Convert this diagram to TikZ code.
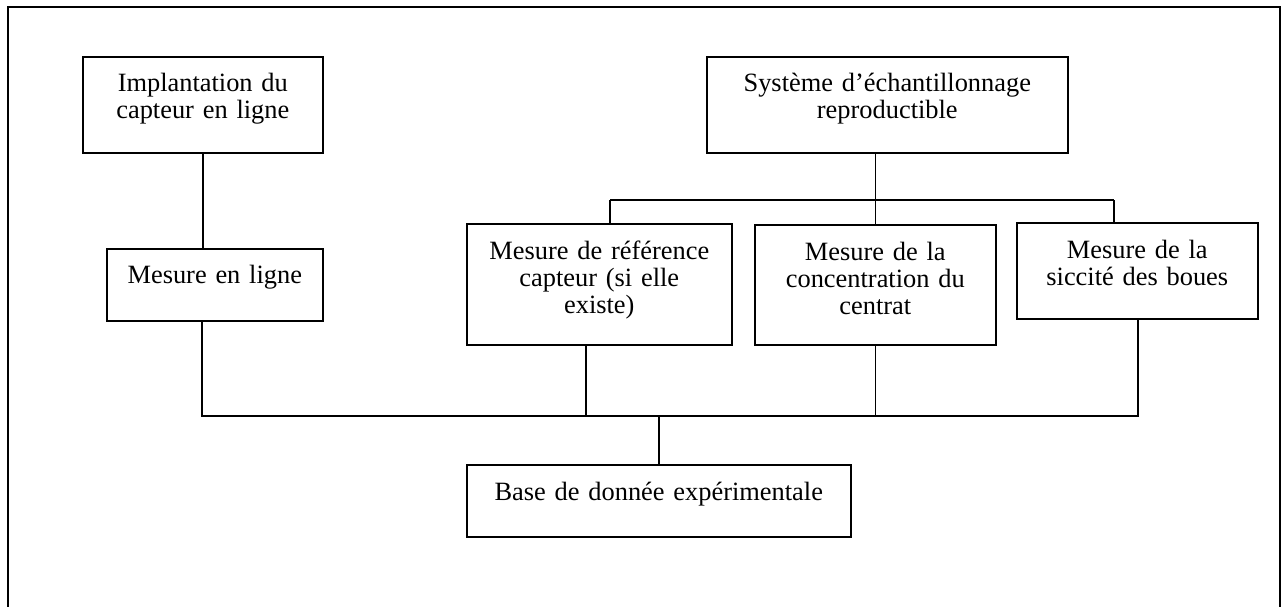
\documentclass[tikz,border=0pt]{standalone}
\usepackage{fontspec}
\setmainfont{Liberation Serif}
\tikzset{
 boite/.style={draw,line width=0.8pt,anchor=north west,inner sep=0pt,align=center,font=\fontsize{13.2}{13.5}\selectfont},
 lien/.style={line width=0.8pt}
}

\begin{document}
\begin{tikzpicture}[x=0.5pt,y=-0.5pt]
\useasboundingbox (0,0) rectangle (1285,606);
\draw[lien] (8,640) -- (8,7) -- (1280,7) -- (1280,640);
\node[boite,text width=120pt,text height=17.5pt,text depth=30.5pt] (impl) at (82,56) {Implantation du\\capteur en ligne};
\node[boite,text width=180.5pt,text height=17.5pt,text depth=30.5pt] (syst) at (706,56) {Système d’échantillonnage\\reproductible};
\node[boite,text width=108pt,text height=17.5pt,text depth=18.5pt] (enligne) at (106,248) {Mesure en ligne};
\node[boite,text width=132.5pt,text height=18pt,text depth=42.5pt] (ref) at (466,223) {Mesure de référence\\capteur (si elle\\existe)};
\node[boite,text width=120.5pt,text height=18pt,text depth=42pt] (conc) at (754,224) {Mesure de la\\concentration du\\centrat};
\node[boite,text width=120.5pt,text height=18pt,text depth=30pt] (sicc) at (1016,222) {Mesure de la\\siccité des boues};
\node[boite,text width=192pt,text height=18pt,text depth=18pt] (base) at (466,464) {Base de donnée expérimentale};
% jonctions
\coordinate (h4) at (610,200);
\coordinate (h6) at (1114,200);
\coordinate (b1) at (202,416);
\coordinate (b4) at (586,416);
\coordinate (b6) at (1138,416);
\draw[lien] (impl.south) -- (impl.south |- enligne.north);
\draw[lien] (syst.south -| conc.north) -- (conc.north);
\draw[lien] (h4) -- (h6);
\draw[lien] (h4) -- (h4 |- ref.north);
\draw[lien] (h6) -- (h6 |- sicc.north);
\draw[lien] (b1 |- enligne.south) -- (b1) -- (b6) -- (b6 |- sicc.south);
\draw[lien] (b4 |- ref.south) -- (b4);
\draw[lien] (conc.south) -- (conc.south |- b1);
\draw[lien] (base.north |- b1) -- (base.north);
\end{tikzpicture}
\end{document}
